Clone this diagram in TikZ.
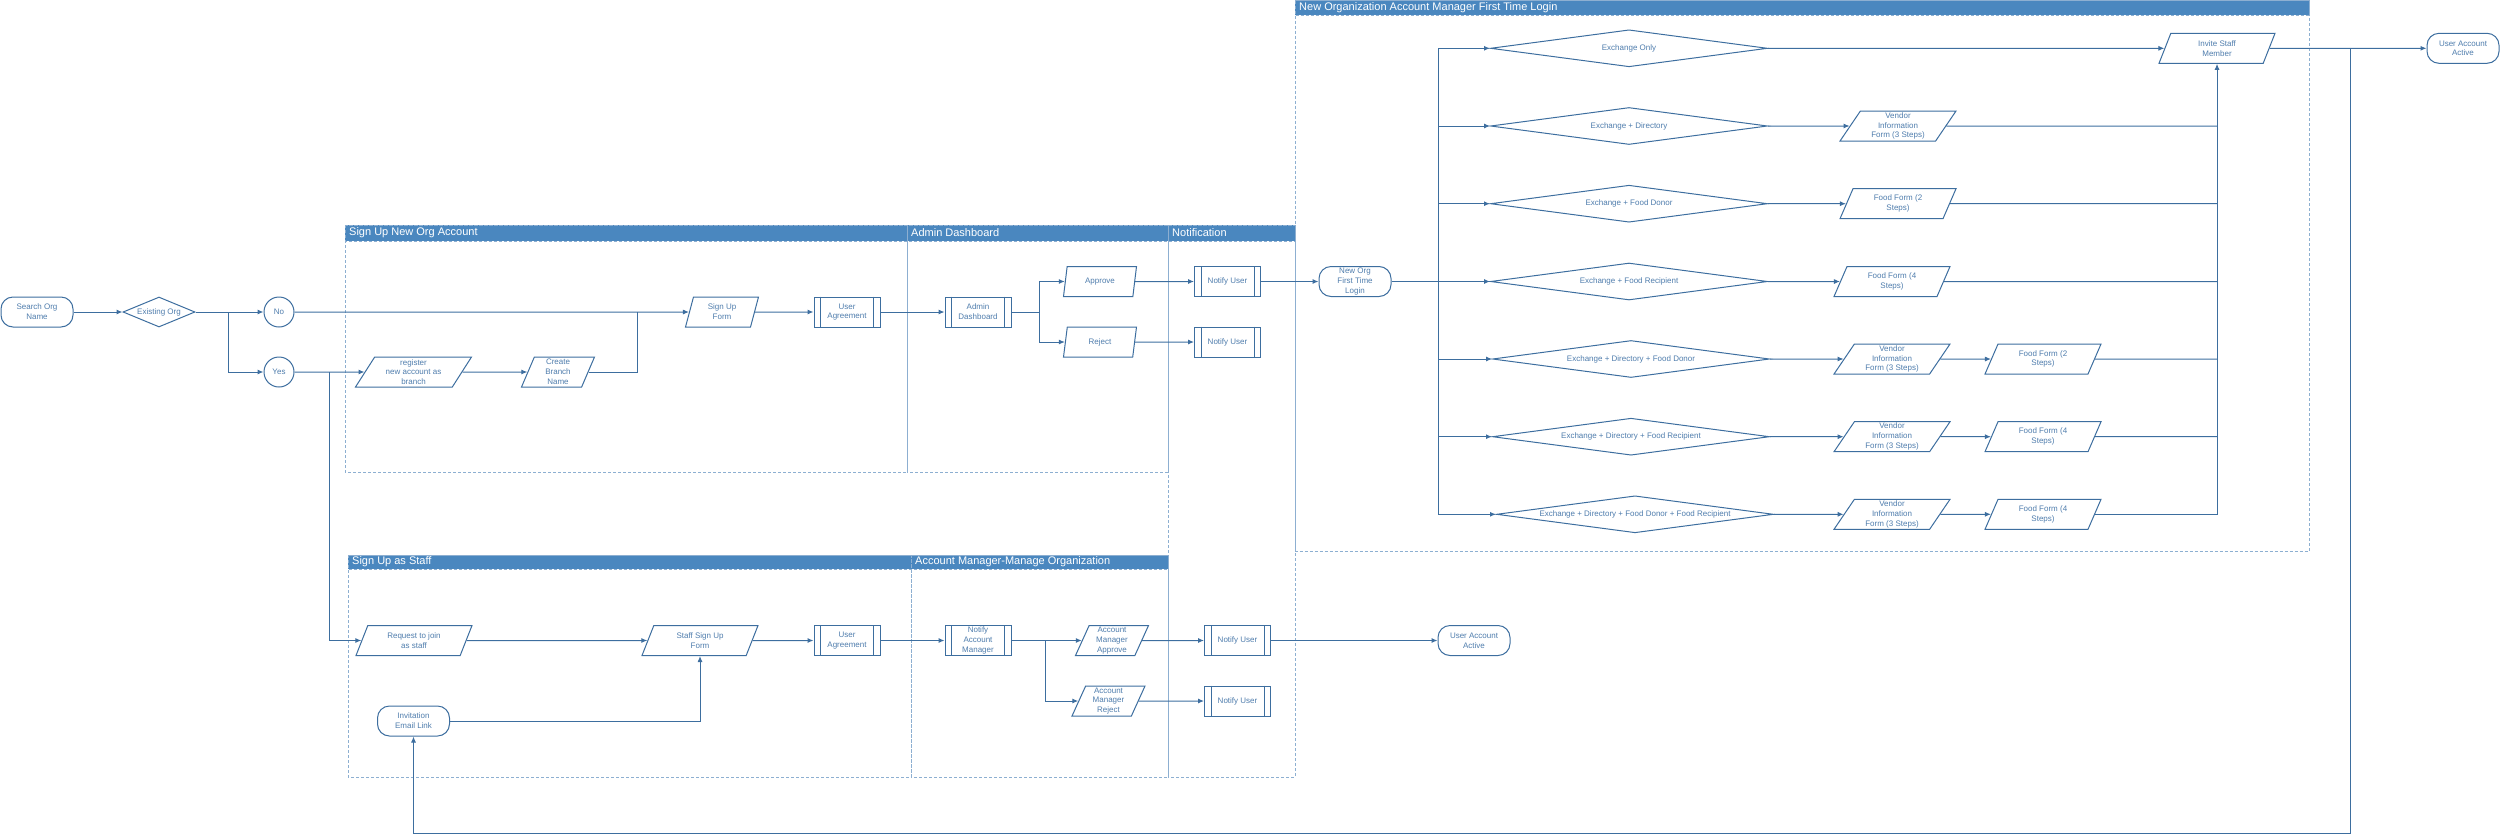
\documentclass[tikz,border=0pt]{standalone}
\usepackage{fontspec}
\setmainfont{Liberation Sans}
\usepackage{tikz}
\usetikzlibrary{shapes.geometric,arrows.meta,positioning,calc}

\definecolor{flowline}{HTML}{3D6E9F}
\definecolor{flowtext}{HTML}{4F7DAD}
\definecolor{lanehead}{HTML}{4A87BF}
\definecolor{lanedash}{HTML}{8DAFD1}

\newcommand{\flowfont}{\fontsize{8}{9.8}\selectfont}
\newcommand{\lanefont}{\fontsize{11}{13}\selectfont}

\tikzset{
	box/.style={draw=flowline, line width=1pt, fill=white, text=flowtext, font=\flowfont, align=center, inner sep=0pt},
	terminal/.style={box, rectangle, rounded corners=12pt, minimum width=72, minimum height=30},
	process/.style={box, rectangle, minimum width=66, minimum height=30},
	decision/.style={box, diamond, shape aspect=#1},
	wpara/.style={box, trapezium, trapezium left angle=53, trapezium right angle=127, trapezium stretches body, minimum width=116, minimum height=30},
	npara/.style={box, trapezium, trapezium left angle=63, trapezium right angle=117, trapezium stretches body, minimum width=73, minimum height=30},
	answer/.style={box, circle, minimum size=30},
	line/.style={draw=flowline, line width=1pt},
	flowarrow/.style={line, -{Latex[length=6pt,width=5pt]}},
	lanebox/.style={draw=lanedash, line width=1pt, dash pattern=on 3pt off 2pt},
	lanetop/.style={fill=lanehead, draw=lanedash, line width=1pt, dash pattern=on 3pt off 2pt},
	lanetitle/.style={anchor=west, text=white, font=\lanefont, inner sep=0pt}
}

\begin{document}
\begin{tikzpicture}[x=1pt,y=-1pt]
	\useasboundingbox (0,0) rectangle (2500,836);
	\draw[lanetop] (345,225) rectangle (1295,241);
	\draw[lanetop] (348,555) rectangle (1168,569);
	\draw[lanetop] (1295,0.5) rectangle (2309,15);
	\draw[lanebox] (345,225) rectangle (907,472);
	\draw[lanebox] (907,225) rectangle (1168,472);
	\draw[lanebox] (1168,225) rectangle (1295,777);
	\draw[lanebox] (348,555) rectangle (911,777);
	\draw[lanebox] (911,555) rectangle (1168,777);
	\draw[lanebox] (1295,0.5) rectangle (2309,551);
	\node[lanetitle] (lneworg) at (349,233) {Sign Up New Org Account};
	\node[lanetitle] (ladmin) at (911,233) {Admin Dashboard};
	\node[lanetitle] (lnotify) at (1172,233) {Notification};
	\node[lanetitle] (lstaff) at (352,562) {Sign Up as Staff};
	\node[lanetitle] (lmanage) at (915,562) {Account Manager-Manage Organization};
	\node[lanetitle] (lfirst) at (1299,7.5) {New Organization Account Manager First Time Login};

	\node[terminal] (search) at (37,312) {Search Org\\Name};
	\node[decision=2.4, minimum width=72, minimum height=30] (exist) at (159,312) {Existing Org};
	\node[answer] (no) at (279,312) {No};
	\node[answer] (yes) at (279,372) {Yes};
	\node[wpara] (branch) at (413.5,372) {register\\new account as\\branch};
	\node[npara] (cbname) at (558,372) {Create\\Branch\\Name};
	\node[npara] (signup) at (722,312) {Sign Up\\Form};
	\node[process] (agree1) at (847,312) {User\\Agreement};
	\node[process] (admin) at (978,312) {Admin\\Dashboard};
	\node[npara] (approve) at (1100,281.5) {Approve};
	\node[npara] (reject) at (1100,342) {Reject};
	\node[process] (notA) at (1227.5,281.5) {Notify User};
	\node[process] (notR) at (1227.5,342) {Notify User};
	\node[terminal] (login) at (1355,281.5) {New Org\\First Time\\Login};

	\node[decision=7.5, minimum width=277, minimum height=37] (d1) at (1629,48.3) {Exchange Only};
	\node[decision=7.5, minimum width=277, minimum height=37] (d2) at (1629,126) {Exchange + Directory};
	\node[decision=7.5, minimum width=277, minimum height=37] (d3) at (1629,203.7) {Exchange + Food Donor};
	\node[decision=7.5, minimum width=277, minimum height=37] (d4) at (1629,281.5) {Exchange + Food Recipient};
	\node[decision=7.5, minimum width=277, minimum height=37] (d5) at (1631,359) {Exchange + Directory + Food Donor};
	\node[decision=7.5, minimum width=277, minimum height=37] (d6) at (1631,436.7) {Exchange + Directory + Food Recipient};
	\node[decision=7.5, minimum width=277, minimum height=37] (d7) at (1635,514.3) {Exchange + Directory + Food Donor + Food Recipient};
	\node[wpara] (v2) at (1898,126) {Vendor\\Information\\Form (3 Steps)};
	\node[wpara] (f3) at (1898,203.7) {Food Form (2\\Steps)};
	\node[wpara] (f4) at (1892,281.5) {Food Form (4\\Steps)};
	\node[wpara] (v5) at (1892,359) {Vendor\\Information\\Form (3 Steps)};
	\node[wpara] (v6) at (1892,436.7) {Vendor\\Information\\Form (3 Steps)};
	\node[wpara] (v7) at (1892,514.3) {Vendor\\Information\\Form (3 Steps)};
	\node[wpara] (ff5) at (2043,359) {Food Form (2\\Steps)};
	\node[wpara] (ff6) at (2043,436.7) {Food Form (4\\Steps)};
	\node[wpara] (ff7) at (2043,514.3) {Food Form (4\\Steps)};
	\node[wpara] (invite) at (2217,48.3) {Invite Staff\\Member};
	\node[terminal] (active1) at (2463,48.3) {User Account\\Active};

	\node[wpara] (request) at (414,640.5) {Request to join\\as staff};
	\node[wpara] (staffform) at (700,640.5) {Staff Sign Up\\Form};
	\node[process] (agree2) at (847,640.5) {User\\Agreement};
	\node[process] (notAM) at (978,640.5) {Notify\\Account\\Manager};
	\node[npara] (amapprove) at (1112,640.5) {Account\\Manager\\Approve};
	\node[npara] (amreject) at (1108.5,701) {Account\\Manager\\Reject};
	\node[process] (notU1) at (1237.5,640.5) {Notify User};
	\node[process] (notU2) at (1237.5,701) {Notify User};
	\node[terminal] (active2) at (1474,640.5) {User Account\\Active};
	\node[terminal] (invlink) at (413.5,721) {Invitation\\Email Link};

	\foreach \p in {agree1,admin,notA,notR,agree2,notAM,notU1,notU2}
		\draw[line] ([xshift=7pt]\p.north west) -- ([xshift=7pt]\p.south west)
			([xshift=-7pt]\p.north east) -- ([xshift=-7pt]\p.south east);

	\coordinate (s1) at (228,312);
	\coordinate (s2) at (329,372);
	\coordinate (m1) at (637.5,312);
	\coordinate (s3) at (1039,312);
	\coordinate (s4) at (1438.5,281.5);
	\coordinate (s5) at (2350,48.3);
	\coordinate (lp) at (2350,833);
	\coordinate (s6) at (1045.5,640.5);

	\draw[flowarrow] (search) -- (exist);
	\draw[flowarrow] (exist) -- (no);
	\draw[flowarrow] (exist.east) -- (s1) |- (yes);
	\draw[flowarrow] (no) -- (signup);
	\draw[flowarrow] (yes) -- (branch);
	\draw[flowarrow] (s2) |- (request);
	\draw[flowarrow] (branch) -- (cbname);
	\draw[line] (cbname.east) -| (m1);
	\draw[flowarrow] (signup) -- (agree1);
	\draw[flowarrow] (agree1) -- (admin);
	\draw[line] (admin) -- (s3);
	\draw[flowarrow] (s3) |- (approve);
	\draw[flowarrow] (s3) |- (reject);
	\draw[flowarrow] (approve) -- (notA);
	\draw[flowarrow] (reject) -- (notR);
	\draw[flowarrow] (notA) -- (login);
	\draw[line] (login) -- (s4);
	\foreach \d in {d1,d2,d3,d4,d5,d6,d7}
		\draw[flowarrow] (s4) |- (\d);
	\draw[flowarrow] (d1) -- (invite);
	\draw[flowarrow] (d2) -- (v2);
	\draw[flowarrow] (d3) -- (f3);
	\draw[flowarrow] (d4) -- (f4);
	\draw[flowarrow] (d5) -- (v5);
	\draw[flowarrow] (d6) -- (v6);
	\draw[flowarrow] (d7) -- (v7);
	\draw[flowarrow] (v5) -- (ff5);
	\draw[flowarrow] (v6) -- (ff6);
	\draw[flowarrow] (v7) -- (ff7);
	\foreach \f in {v2,f3,f4,ff5,ff6}
		\draw[line] (\f) -- (\f -| invite);
	\draw[flowarrow] (ff7) -| (invite);
	\draw[flowarrow] (invite) -- (active1);
	\draw[flowarrow] (s5) -- (lp) -| (invlink);

	\draw[flowarrow] (request) -- (staffform);
	\draw[flowarrow] (invlink) -| (staffform);
	\draw[flowarrow] (staffform) -- (agree2);
	\draw[flowarrow] (agree2) -- (notAM);
	\draw[line] (notAM) -- (s6);
	\draw[flowarrow] (s6) |- (amapprove);
	\draw[flowarrow] (s6) |- (amreject);
	\draw[flowarrow] (amapprove) -- (notU1);
	\draw[flowarrow] (amreject) -- (notU2);
	\draw[flowarrow] (notU1) -- (active2);
\end{tikzpicture}
\end{document}
